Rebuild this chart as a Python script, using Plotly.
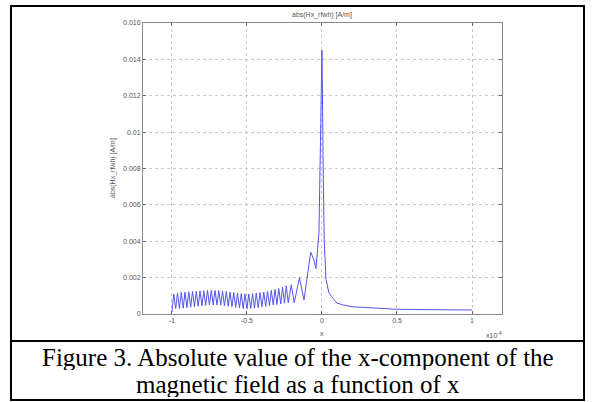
import plotly.graph_objects as go

# data (x in units of 1e-4)
x_vals = [-1.000, -0.988, -0.975, -0.963, -0.950, -0.938, -0.925, -0.913, -0.900, -0.888,
          -0.875, -0.863, -0.850, -0.838, -0.825, -0.813, -0.800, -0.788, -0.775, -0.763,
          -0.750, -0.738, -0.725, -0.713, -0.700, -0.688, -0.675, -0.663, -0.650, -0.638,
          -0.625, -0.613, -0.600, -0.588, -0.575, -0.563, -0.550, -0.538, -0.525, -0.513,
          -0.500, -0.488, -0.475, -0.463, -0.450, -0.438, -0.425, -0.413, -0.400, -0.388,
          -0.375, -0.363, -0.350, -0.338, -0.325, -0.313, -0.300, -0.288, -0.275, -0.263,
          -0.250, -0.238, -0.225, -0.205, -0.185, -0.150, -0.120, -0.100, -0.075, -0.055,
          -0.040, -0.020, -0.010, 0.000, 0.008, 0.015, 0.027, 0.045, 0.065, 0.100,
          0.142, 0.200, 0.300, 0.400, 0.500, 0.700, 1.000]
y_vals = [0.00010, 0.00110, 0.00030, 0.00115, 0.00030, 0.00120, 0.00032, 0.00120, 0.00035, 0.00122,
          0.00038, 0.00124, 0.00040, 0.00125, 0.00042, 0.00127, 0.00045, 0.00128, 0.00048, 0.00130,
          0.00050, 0.00130, 0.00050, 0.00130, 0.00050, 0.00128, 0.00048, 0.00126, 0.00045, 0.00124,
          0.00042, 0.00120, 0.00040, 0.00118, 0.00036, 0.00115, 0.00033, 0.00112, 0.00030, 0.00110,
          0.00028, 0.00110, 0.00030, 0.00112, 0.00032, 0.00115, 0.00035, 0.00118, 0.00040, 0.00120,
          0.00042, 0.00125, 0.00045, 0.00130, 0.00050, 0.00135, 0.00052, 0.00140, 0.00055, 0.00148,
          0.00060, 0.00155, 0.00062, 0.00160, 0.00062, 0.00200, 0.00077, 0.00200, 0.00340, 0.00300,
          0.00250, 0.00450, 0.00850, 0.01450, 0.00800, 0.00400, 0.00190, 0.00120, 0.00095, 0.00060,
          0.00050, 0.00040, 0.00035, 0.00030, 0.00026, 0.00024, 0.00022]

x_ticks = [-1, -0.5, 0, 0.5, 1]
x_tick_text = ["-1", "-0.5", "0", "0.5", "1"]
y_ticks = [0, 0.002, 0.004, 0.006, 0.008, 0.01, 0.012, 0.014, 0.016]
y_tick_text = ["0", "0.002", "0.004", "0.006", "0.008", "0.01", "0.012", "0.014", "0.016"]

plot_title = "abs(Hx_rfwh) [A/m]"
y_title = "abs(Hx_rfwh) [A/m]"
caption_line1 = "Figure 3. Absolute value of the x-component of the"
caption_line2 = "magnetic field as a function of x"

W, H = 595, 402
L, R, T, B = 143, 502, 23, 314
pw, ph = R - L, B - T

def px(xp):
    return (xp - L) / pw

def py(yp):
    return (B - yp) / ph

small_font = dict(family="Arial, Liberation Sans", size=7, color="#555555")

fig = go.Figure()
fig.add_trace(go.Scatter(x=x_vals, y=y_vals, mode="lines",
                         line=dict(color="#5555ee", width=1), showlegend=False))

axis_common = dict(showline=True, linecolor="#8a8a8a", linewidth=1, mirror="ticks",
                   ticks="inside", ticklen=3, tickcolor="#666666",
                   showgrid=True, gridcolor="#c8c8c8", griddash="dot", gridwidth=1,
                   zeroline=False, tickfont=small_font)

fig.update_xaxes(range=[-1.193, 1.2], tickvals=x_ticks, ticktext=x_tick_text, **axis_common)
fig.update_yaxes(range=[0, 0.016], tickvals=y_ticks, ticktext=y_tick_text, **axis_common)

shapes = [
    dict(type="rect", xref="paper", yref="paper", x0=px(11), x1=px(584), y0=py(6), y1=py(400),
         line=dict(color="black", width=2), fillcolor="rgba(0,0,0,0)", layer="above"),
    dict(type="line", xref="paper", yref="paper", x0=px(11), x1=px(584), y0=py(341), y1=py(341),
         line=dict(color="black", width=2)),
]

serif = dict(family="Liberation Serif, Times New Roman, serif", size=25, color="black")
annotations = [
    dict(text=plot_title, xref="paper", yref="paper", x=px(322), y=py(15), showarrow=False,
         font=small_font, xanchor="center", yanchor="middle"),
    dict(text=y_title, xref="paper", yref="paper", x=px(113), y=py(168), showarrow=False, textangle=-90,
         font=small_font, xanchor="center", yanchor="middle"),
    dict(text="x", xref="paper", yref="paper", x=px(322), y=py(333), showarrow=False,
         font=small_font, xanchor="center", yanchor="middle"),
    dict(text="x10<sup>-4</sup>", xref="paper", yref="paper", x=px(494), y=py(335), showarrow=False,
         font=small_font, xanchor="center", yanchor="middle"),
    dict(text=caption_line1, xref="paper", yref="paper", x=px(298), y=py(357), showarrow=False,
         font=serif, xanchor="center", yanchor="middle", height=26),
    dict(text=caption_line2, xref="paper", yref="paper", x=px(298), y=py(384), showarrow=False,
         font=serif, xanchor="center", yanchor="middle", height=26),
]

fig.update_layout(width=W, height=H, margin=dict(l=L, r=W - R, t=T, b=H - B, pad=0),
                  paper_bgcolor="white", plot_bgcolor="white",
                  shapes=shapes, annotations=annotations)

fig.write_html("out.html", config={"displayModeBar": False},
               post_script="document.body.style.margin='0';document.body.style.overflow='hidden';")
